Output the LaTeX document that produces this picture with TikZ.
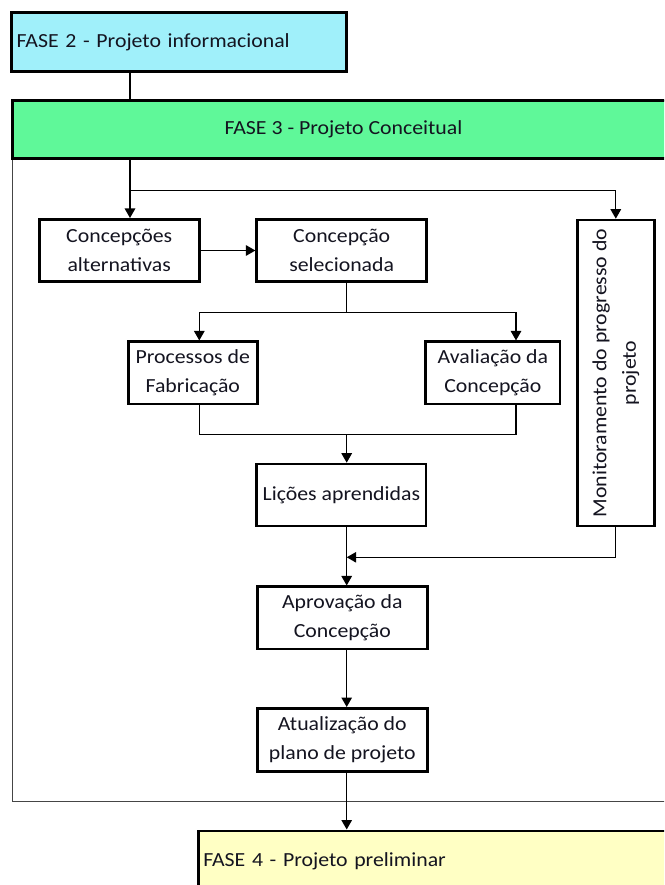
\documentclass[tikz,border=0pt]{standalone}
\usepackage{fontspec}
\setmainfont{Carlito}[FakeStretch=1.09]
\usetikzlibrary{arrows.meta}
\definecolor{faseazul}{HTML}{A0F0FA}
\definecolor{faseverde}{HTML}{5FF899}
\definecolor{faseamarela}{HTML}{FFFFC4}
\definecolor{moldura}{HTML}{454545}
\definecolor{tinta}{HTML}{141420}
\begin{document}
\begin{tikzpicture}[x=1pt,y=-1pt,
  font=\fontsize{20}{29.5}\selectfont, text=tinta,
  etapa/.style={draw=black, line width=2.6pt, fill=white, align=center, inner sep=0pt},
  fase/.style={draw=black, line width=2.8pt, inner sep=0pt},
  fluxo/.style={line width=1.3pt, line join=miter},
  seta/.style={fluxo, -{Triangle[length=9.5pt,width=10.5pt]}},
  moldurabox/.style={draw=moldura, line width=1.7pt, inner sep=0pt}]
\useasboundingbox (0,0) rectangle (664,885);
\clip (0,0) rectangle (664,885);

% frame of phase 3, drawn first so its header covers the top edge
\node[moldurabox, minimum width=662pt, minimum height=701pt] (quadro) at (343.5,451) {};

% phase headers
\node[fase, fill=faseazul, minimum width=335pt, minimum height=59pt,
      text width=325pt, align=left, inner xsep=5pt] (f2) at (179.2,42.2)
      {FASE 2 - Projeto informacional};
\node[fase, fill=faseverde, minimum width=662pt, minimum height=58pt] (f3) at (343.5,129.2)
      {FASE 3 - Projeto Conceitual};
\node[fase, fill=faseamarela, minimum width=522pt, minimum height=61pt,
      text width=512pt, align=left, inner xsep=5pt] (f4) at (459.3,861.4)
      {FASE 4 - Projeto preliminar};

% steps of phase 3
\node[etapa, minimum width=160pt, minimum height=62.4pt] (ca) at (119.2,250.5) {Concepções\\alternativas};
\node[etapa, minimum width=170pt, minimum height=62.4pt] (cs) at (341.7,250.5) {Concepção\\selecionada};
\node[etapa, minimum width=129pt, minimum height=62.3pt] (pf) at (192.8,372.9) {Processos de\\Fabricação};
\node[etapa, minimum width=134.3pt, minimum height=62.3pt] (av) at (492.9,372.9) {Avaliação da\\Concepção};
\node[etapa, minimum width=169.3pt, minimum height=62pt] (la) at (341.4,495) {Lições aprendidas};
\node[etapa, minimum width=170pt, minimum height=62.3pt] (ap) at (342.3,617.9) {Aprovação da\\Concepção};
\node[etapa, minimum width=170pt, minimum height=63.4pt] (at) at (342.3,740) {Atualização do\\plano de projeto};
% vertical box: its east side is the top, its west side the bottom
\node[etapa, rotate=90, minimum width=306pt, minimum height=77pt] (mon) at (615.8,373)
      {Monitoramento do progresso do\\projeto};

% junction points of the connectors
\coordinate (tronco) at (130,190.7);
\coordinate (eixo) at (346.7,312.7);
\coordinate (rpf) at (199.3,312.7);
\coordinate (rav) at (516,312.7);
\coordinate (junta) at (346.7,434.3);
\coordinate (retorno) at (346.7,557.3);

% connectors
\draw[fluxo] (f2.south -| tronco) -- (f3.north -| tronco);
\draw[seta] (f3.south -| tronco) -- (ca.north -| tronco);
\draw[seta] (tronco) -| (mon.east);
\draw[seta] (ca.east) -- (cs.west);
\draw[fluxo] (cs.south -| eixo) -- (eixo);
\draw[seta] (eixo) -| (pf.north -| rpf);
\draw[seta] (eixo) -| (av.north -| rav);
\draw[fluxo] (pf.south -| rpf) |- (junta);
\draw[fluxo] (av.south -| rav) |- (junta);
\draw[seta] (junta) -- (la.north -| junta);
\draw[seta] (la.south -| junta) -- (ap.north -| junta);
\draw[seta] (mon.west) |- (retorno);
\draw[seta] (ap.south -| junta) -- (at.north -| junta);
\draw[seta] (at.south -| junta) -- (f4.north -| junta);
\end{tikzpicture}
\end{document}
